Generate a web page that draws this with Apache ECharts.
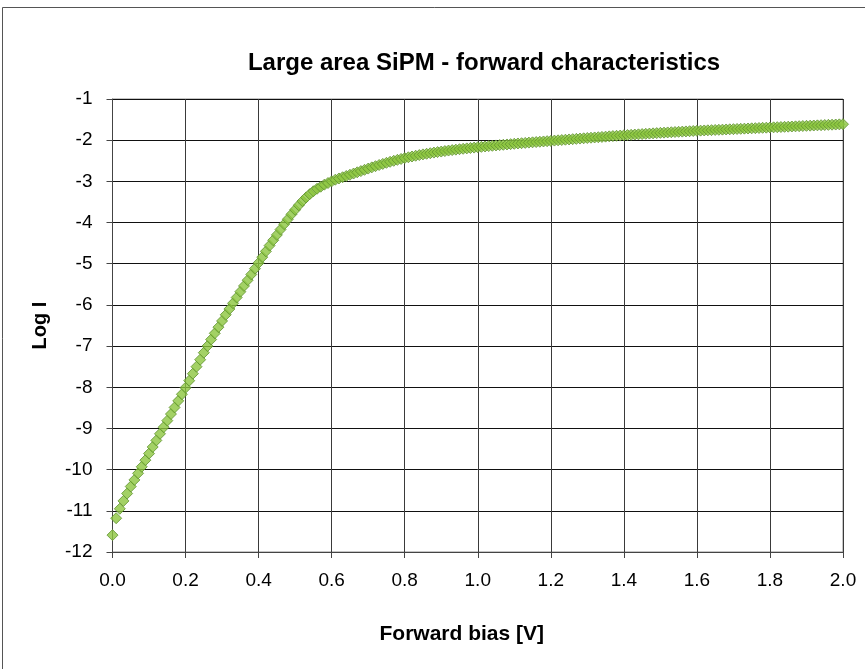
<!DOCTYPE html>
<html>
<head>
<meta charset="utf-8">
<script src="https://cdn.jsdelivr.net/npm/echarts@6/dist/echarts.min.js"></script>
<style>html,body{margin:0;padding:0;background:#fff;}#c{width:865px;height:669px;}</style>
</head>
<body>
<div id="c"></div>
<script>
const titleText = 'Large area SiPM - forward characteristics';
const xName = 'Forward bias [V]';
const yName = 'Log I';
const biasV = [
0.00,0.01,0.02,0.03,0.04,0.05,0.06,0.07,0.08,0.09,
0.10,0.11,0.12,0.13,0.14,0.15,0.16,0.17,0.18,0.19,
0.20,0.21,0.22,0.23,0.24,0.25,0.26,0.27,0.28,0.29,
0.30,0.31,0.32,0.33,0.34,0.35,0.36,0.37,0.38,0.39,
0.40,0.41,0.42,0.43,0.44,0.45,0.46,0.47,0.48,0.49,
0.50,0.51,0.52,0.53,0.54,0.55,0.56,0.57,0.58,0.59,
0.60,0.61,0.62,0.63,0.64,0.65,0.66,0.67,0.68,0.69,
0.70,0.71,0.72,0.73,0.74,0.75,0.76,0.77,0.78,0.79,
0.80,0.81,0.82,0.83,0.84,0.85,0.86,0.87,0.88,0.89,
0.90,0.91,0.92,0.93,0.94,0.95,0.96,0.97,0.98,0.99,
1.00,1.01,1.02,1.03,1.04,1.05,1.06,1.07,1.08,1.09,
1.10,1.11,1.12,1.13,1.14,1.15,1.16,1.17,1.18,1.19,
1.20,1.21,1.22,1.23,1.24,1.25,1.26,1.27,1.28,1.29,
1.30,1.31,1.32,1.33,1.34,1.35,1.36,1.37,1.38,1.39,
1.40,1.41,1.42,1.43,1.44,1.45,1.46,1.47,1.48,1.49,
1.50,1.51,1.52,1.53,1.54,1.55,1.56,1.57,1.58,1.59,
1.60,1.61,1.62,1.63,1.64,1.65,1.66,1.67,1.68,1.69,
1.70,1.71,1.72,1.73,1.74,1.75,1.76,1.77,1.78,1.79,
1.80,1.81,1.82,1.83,1.84,1.85,1.86,1.87,1.88,1.89,
1.90,1.91,1.92,1.93,1.94,1.95,1.96,1.97,1.98,1.99,
2.00];
const logI = [
-11.59,-11.18,-10.95,-10.76,-10.58,-10.41,-10.25,-10.09,-9.93,-9.77,
-9.61,-9.45,-9.29,-9.13,-8.97,-8.81,-8.65,-8.49,-8.33,-8.17,
-8.01,-7.84,-7.67,-7.50,-7.33,-7.16,-7.00,-6.84,-6.69,-6.54,
-6.39,-6.24,-6.10,-5.96,-5.82,-5.68,-5.54,-5.40,-5.26,-5.12,
-4.98,-4.84,-4.70,-4.56,-4.43,-4.30,-4.17,-4.04,-3.92,-3.80,
-3.69,-3.58,-3.48,-3.39,-3.31,-3.24,-3.18,-3.13,-3.08,-3.04,
-3.00,-2.96,-2.93,-2.90,-2.87,-2.84,-2.81,-2.78,-2.75,-2.72,
-2.690,-2.660,-2.631,-2.603,-2.576,-2.550,-2.525,-2.501,-2.478,-2.456,
-2.435,-2.415,-2.396,-2.378,-2.361,-2.345,-2.330,-2.316,-2.302,-2.289,
-2.276,-2.264,-2.252,-2.241,-2.230,-2.219,-2.209,-2.199,-2.189,-2.180,
-2.171,-2.162,-2.153,-2.144,-2.136,-2.128,-2.120,-2.112,-2.104,-2.096,
-2.088,-2.080,-2.073,-2.066,-2.059,-2.052,-2.045,-2.038,-2.031,-2.024,
-2.017,-2.010,-2.003,-1.996,-1.989,-1.982,-1.975,-1.968,-1.961,-1.954,
-1.947,-1.940,-1.934,-1.928,-1.921,-1.914,-1.907,-1.900,-1.894,-1.888,
-1.882,-1.876,-1.870,-1.864,-1.858,-1.852,-1.846,-1.840,-1.834,-1.828,
-1.822,-1.817,-1.812,-1.807,-1.802,-1.797,-1.792,-1.787,-1.782,-1.777,
-1.772,-1.768,-1.764,-1.760,-1.756,-1.752,-1.748,-1.744,-1.740,-1.736,
-1.732,-1.728,-1.724,-1.720,-1.716,-1.712,-1.708,-1.704,-1.700,-1.696,
-1.692,-1.688,-1.684,-1.680,-1.676,-1.672,-1.668,-1.664,-1.660,-1.656,
-1.652,-1.648,-1.644,-1.640,-1.636,-1.632,-1.628,-1.624,-1.620,-1.616,
-1.612];

const FONT = '"Liberation Sans", Arial, sans-serif';
const chart = echarts.init(document.getElementById('c'), null, {renderer: 'canvas'});
const points = biasV.map((v, i) => [v, logI[i]]);
chart.setOption({
  animation: false,
  backgroundColor: '#ffffff',
  graphic: [{
    type: 'rect', z: -10, silent: true,
    shape: {x: 2.5, y: 7.5, width: 880, height: 700},
    style: {fill: 'none', stroke: '#555555', lineWidth: 1}
  }],
  title: {
    text: titleText, left: 479, top: 46, textAlign: 'center',
    textStyle: {fontFamily: FONT, fontSize: 24, fontWeight: 'bold', color: '#000'}
  },
  grid: {left: 112.5, right: 22, top: 99, bottom: 117, show: true, borderColor: '#8c8c8c', borderWidth: 1, containLabel: false},
  xAxis: {
    type: 'value', min: 0, max: 2, interval: 0.2,
    name: xName, nameLocation: 'middle', nameGap: 72,
    nameTextStyle: {fontFamily: FONT, fontSize: 21, fontWeight: 'bold', color: '#000', padding: [0, 32, 0, 0]},
    axisLine: {show: true, onZero: false, lineStyle: {color: '#444', width: 1}},
    axisTick: {show: true, inside: false, length: 6, lineStyle: {color: '#444'}},
    axisLabel: {fontFamily: FONT, fontSize: 19, color: '#000', margin: 19, formatter: v => v.toFixed(1)},
    splitLine: {show: true, lineStyle: {color: '#3a3a3a', width: 1}}
  },
  yAxis: {
    type: 'value', min: -12, max: -1, interval: 1,
    name: yName, nameLocation: 'middle', nameGap: 62, nameRotate: 90,
    nameTextStyle: {fontFamily: FONT, fontSize: 20, fontWeight: 'bold', color: '#000'},
    axisLine: {show: true, onZero: false, lineStyle: {color: '#444', width: 1}},
    axisTick: {show: true, inside: false, length: 6, lineStyle: {color: '#444'}},
    axisLabel: {fontFamily: FONT, fontSize: 19, color: '#000', margin: 20},
    splitLine: {show: true, lineStyle: {color: '#111', width: 1}}
  },
  series: [{
    type: 'scatter',
    data: points,
    clip: false,
    symbol: 'diamond',
    symbolSize: [11, 11],
    itemStyle: {color: '#8CC63F', borderColor: '#5F9230', borderWidth: 1}
  }]
});
</script>
</body>
</html>
